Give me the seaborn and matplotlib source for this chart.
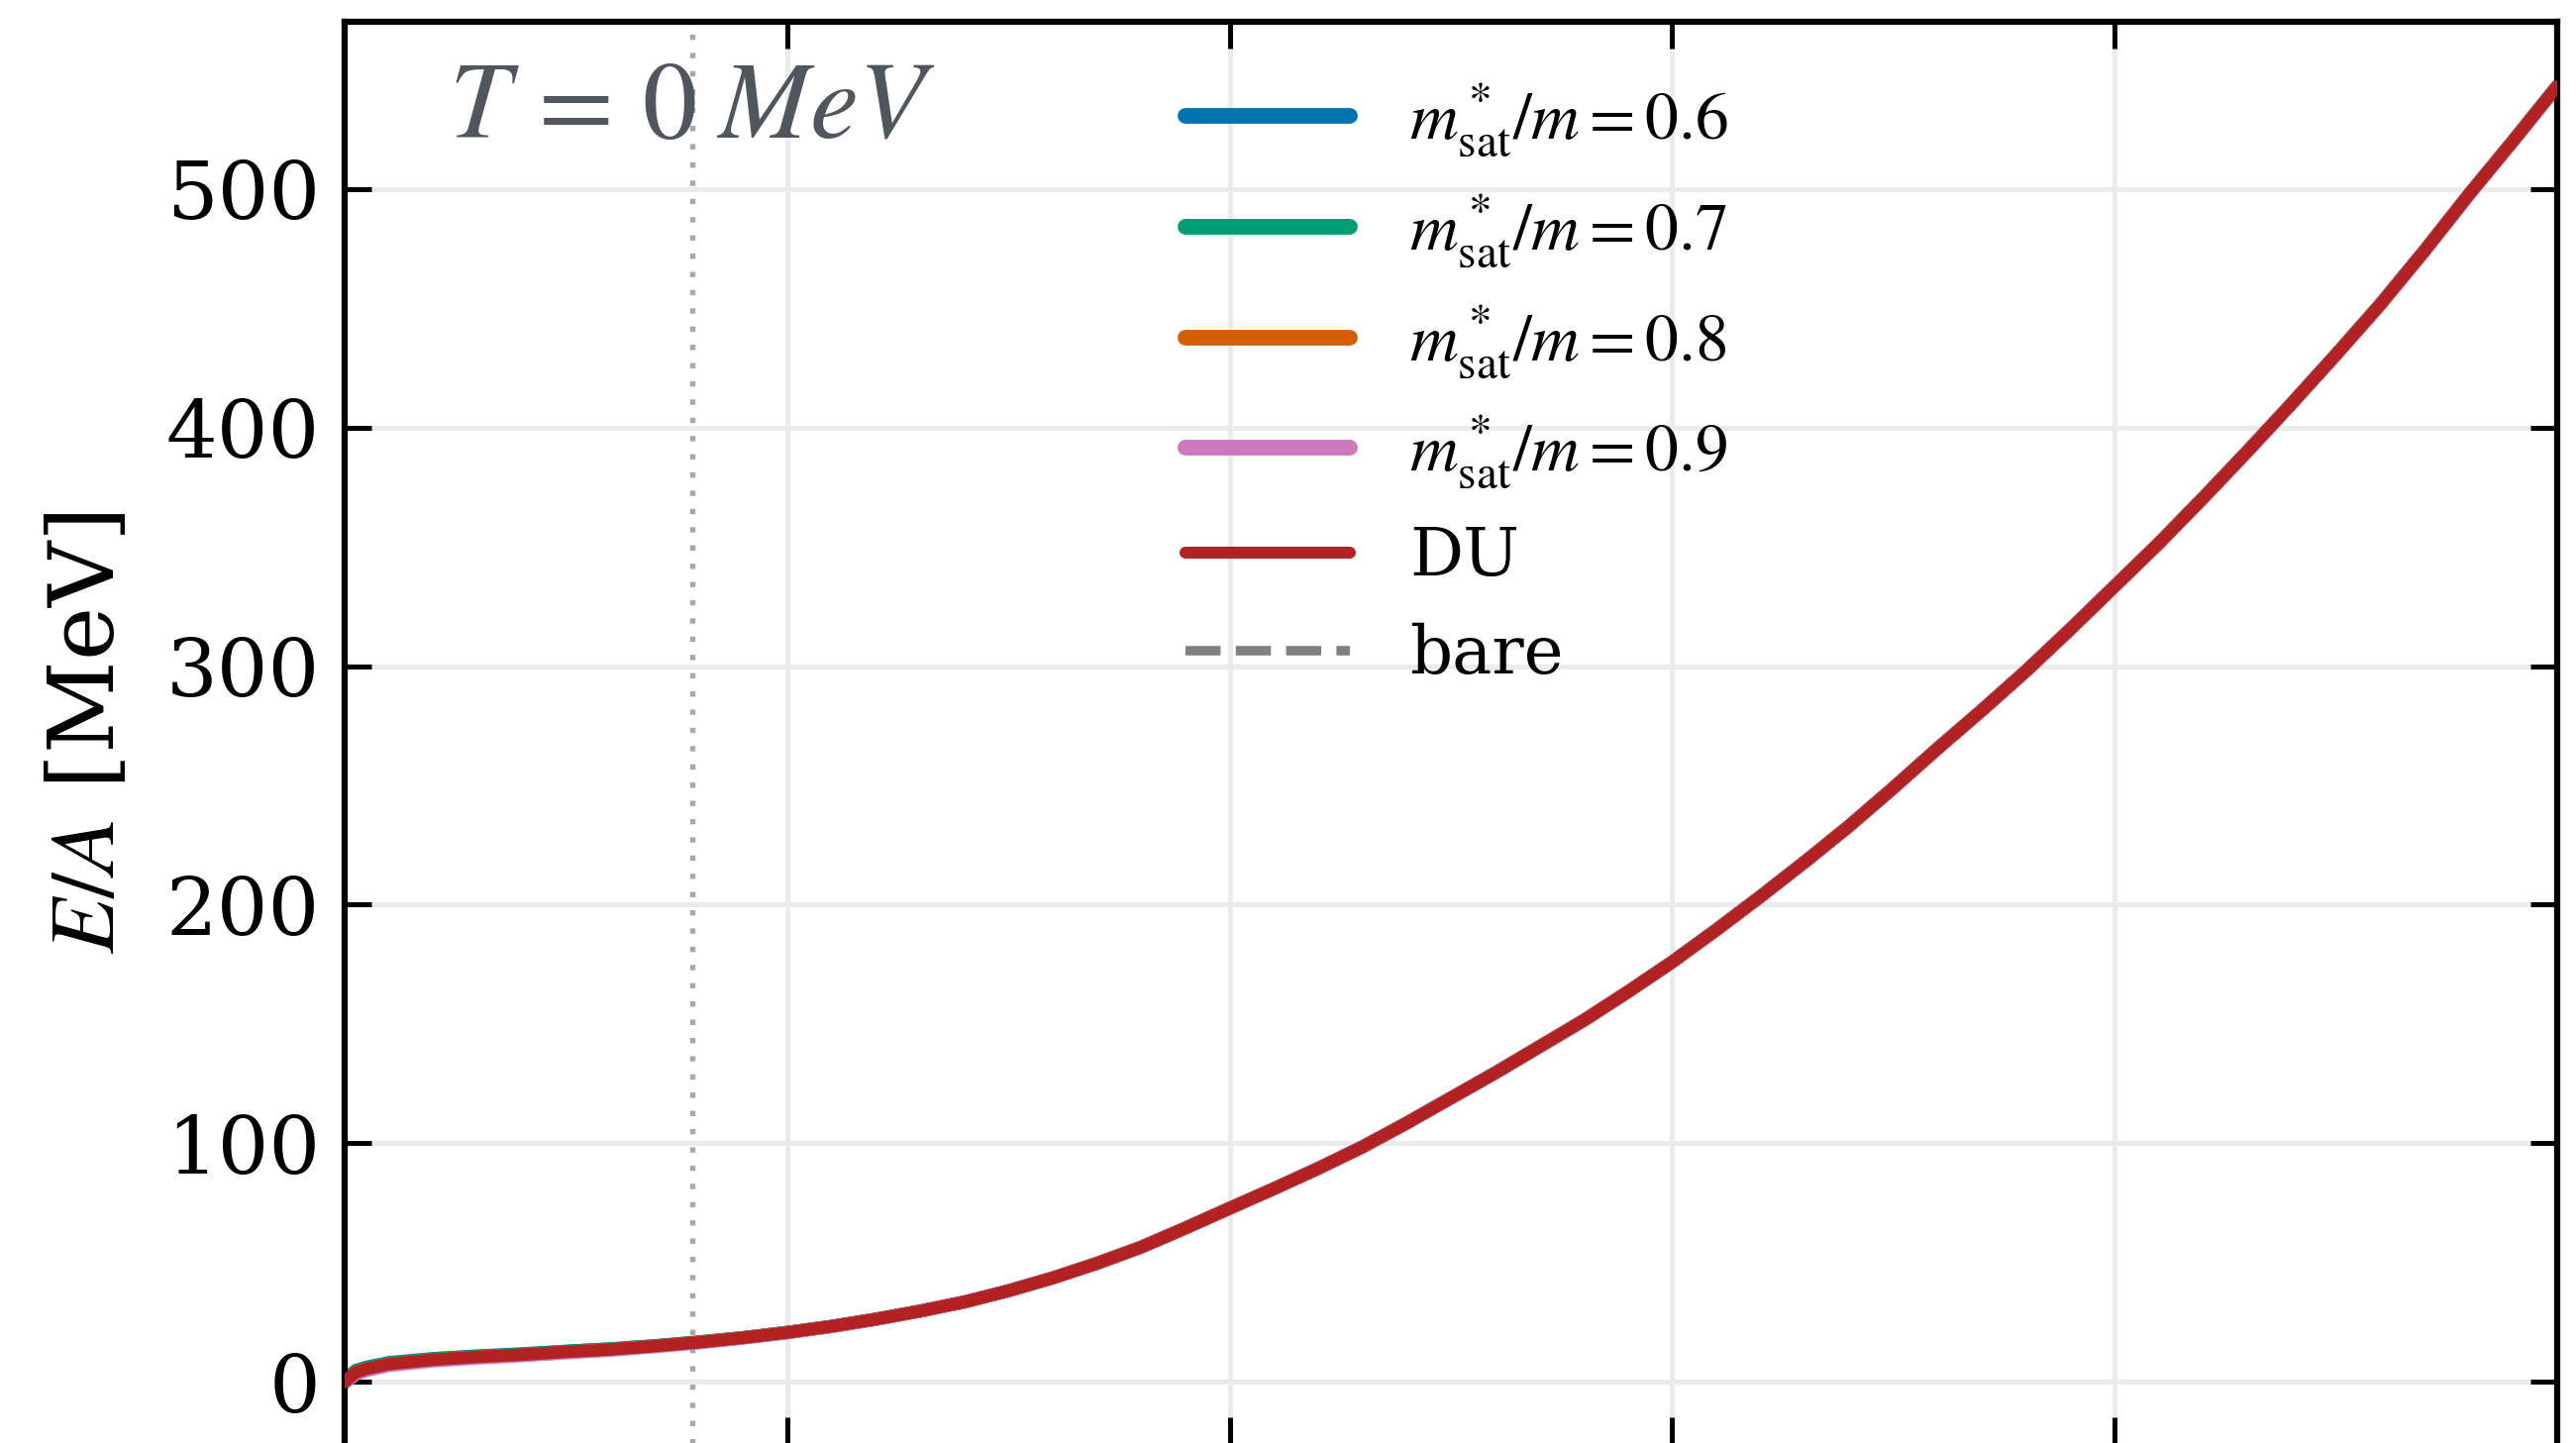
import numpy as np
import pandas as pd
import matplotlib
matplotlib.use("Agg")
import matplotlib.pyplot as plt
import seaborn as sns

# ---------------- data ----------------
density = [0.0, 0.005, 0.01, 0.02, 0.04, 0.06, 0.08, 0.10, 0.12, 0.14, 0.16, 0.18,
           0.20, 0.22, 0.24, 0.26, 0.28, 0.30, 0.32, 0.34, 0.36, 0.38, 0.40, 0.42,
           0.44, 0.46, 0.48, 0.50, 0.52, 0.54, 0.56, 0.58, 0.60, 0.62, 0.64, 0.66,
           0.68, 0.70, 0.72, 0.74, 0.76, 0.78, 0.80, 0.82, 0.84, 0.86, 0.88, 0.90,
           0.92, 0.94, 0.96, 0.98, 1.00]

ea_du = [0.0, 4.0, 5.5, 7.5, 9.3, 10.5, 11.4, 12.6, 13.6, 15.0, 16.6, 18.5,
         20.7, 23.3, 26.3, 29.7, 33.5, 38.2, 43.6, 49.7, 56.5, 64.5, 72.8, 81.0,
         89.5, 98.5, 108.5, 119.0, 129.5, 140.5, 151.5, 163.5, 176.0, 189.5, 203.5, 218.0,
         233.0, 249.0, 265.5, 281.5, 298.0, 315.5, 333.5, 351.5, 370.5, 390.0, 410.0, 430.5,
         451.5, 474.0, 497.5, 520.0, 543.0]

ea_m06 = [0.6, 4.8, 6.2, 8.1, 9.8, 10.9, 11.8, 12.9, 13.9, 15.2, 16.8, 18.6,
          20.8, 23.3, 26.3, 29.7, 33.5, 38.2, 43.6, 49.7, 56.5, 64.5, 72.8, 81.0,
          89.5, 98.5, 108.5, 119.0, 129.5, 140.5, 151.5, 163.5, 176.0, 189.5, 203.5, 218.0,
          233.0, 249.0, 265.5, 281.5, 298.0, 315.5, 333.5, 351.5, 370.5, 390.0, 410.0, 430.5,
          451.5, 474.0, 497.5, 520.0, 543.0]

ea_m07 = [0.4, 4.5, 5.9, 7.9, 9.6, 10.7, 11.6, 12.8, 13.8, 15.1, 16.7, 18.6,
          20.8, 23.3, 26.3, 29.7, 33.5, 38.2, 43.6, 49.7, 56.5, 64.5, 72.8, 81.0,
          89.5, 98.5, 108.5, 119.0, 129.5, 140.5, 151.5, 163.5, 176.0, 189.5, 203.5, 218.0,
          233.0, 249.0, 265.5, 281.5, 298.0, 315.5, 333.5, 351.5, 370.5, 390.0, 410.0, 430.5,
          451.5, 474.0, 497.5, 520.0, 543.0]

ea_m08 = [0.2, 4.0, 5.4, 7.4, 9.2, 10.4, 11.3, 12.5, 13.5, 15.0, 16.6, 18.5,
          20.7, 23.3, 26.3, 29.7, 33.5, 38.2, 43.6, 49.7, 56.5, 64.5, 72.8, 81.0,
          89.5, 98.5, 108.5, 119.0, 129.5, 140.5, 151.5, 163.5, 176.0, 189.5, 203.5, 218.0,
          233.0, 249.0, 265.5, 281.5, 298.0, 315.5, 333.5, 351.5, 370.5, 390.0, 410.0, 430.5,
          451.5, 474.0, 497.5, 520.0, 543.0]

ea_m09 = [-0.4, 3.3, 4.8, 6.9, 8.8, 10.0, 11.0, 12.2, 13.3, 14.8, 16.4, 18.4,
          20.6, 23.2, 26.2, 29.7, 33.5, 38.2, 43.6, 49.7, 56.5, 64.5, 72.8, 81.0,
          89.5, 98.5, 108.5, 119.0, 129.5, 140.5, 151.5, 163.5, 176.0, 189.5, 203.5, 218.0,
          233.0, 249.0, 265.5, 281.5, 298.0, 315.5, 333.5, 351.5, 370.5, 390.0, 410.0, 430.5,
          451.5, 474.0, 497.5, 520.0, 543.0]

ea_bare = ea_du

n_sat = 0.157
y_ticks = [0, 100, 200, 300, 400, 500]
x_ticks = [0.0, 0.2, 0.4, 0.6, 0.8, 1.0]

series_labels = [r"$m^*_{\rm sat}/m = 0.6$", r"$m^*_{\rm sat}/m = 0.7$",
                 r"$m^*_{\rm sat}/m = 0.8$", r"$m^*_{\rm sat}/m = 0.9$"]
series_values = [ea_m06, ea_m07, ea_m08, ea_m09]

# ---------------- style ----------------
sns.set_theme(style="ticks")
plt.rcParams["font.family"] = ["DejaVu Serif"]
plt.rcParams["mathtext.fontset"] = "stix"
plt.rcParams["axes.linewidth"] = 1.5
for k in ["text.color", "axes.labelcolor", "xtick.color", "ytick.color", "axes.edgecolor"]:
    plt.rcParams[k] = "black"

palette = sns.color_palette("colorblind")
colors = [palette[0], palette[2], palette[3], palette[4]]

fig = plt.figure(figsize=(2601 / 300, 1457 / 300), dpi=300)
ax = fig.add_axes([0.1338, -0.0007, 0.8589, 0.9856])

# bare (hidden underneath)
df_bare = pd.DataFrame({"n": density, "E": ea_bare})
sns.lineplot(data=df_bare, x="n", y="E", ax=ax, color="gray", lw=2.3,
             linestyle="--", label="bare", zorder=1, legend=False)

for lab, vals, col in zip(series_labels, series_values, colors):
    df = pd.DataFrame({"n": density, "E": vals})
    sns.lineplot(data=df, x="n", y="E", ax=ax, color=col, lw=3.2,
                 label=lab, zorder=2, legend=False)

df_du = pd.DataFrame({"n": density, "E": ea_du})
sns.lineplot(data=df_du, x="n", y="E", ax=ax, color="#b22222", lw=3.0,
             label="DU", zorder=3, legend=False)

ax.axvline(n_sat, color="#a8a8a8", lw=1.3, linestyle=(0, (1, 2.4)), zorder=0.5)

ax.set_xlim(0, 1.0)
ax.set_ylim(-26, 570)
ax.set_xticks(x_ticks)
ax.set_yticks(y_ticks)
ax.grid(True, color="#ebebeb", lw=1.2, zorder=0)
ax.set_axisbelow(True)
ax.tick_params(direction="in", length=6.5, width=1.2, top=True, right=True,
               labelsize=19.5, pad=6, labelbottom=False)
ax.set_xlabel("")
ax.set_ylabel(r"$E/A$ [MeV]", fontsize=22, labelpad=8)

ax.text(0.047, 0.94, r"$T\,=\,0\;MeV$", transform=ax.transAxes, fontsize=26.5,
        color="#4f565e", ha="left", va="center")

handles, labels = ax.get_legend_handles_labels()
order = [1, 2, 3, 4, 5, 0]
leg = ax.legend([handles[i] for i in order], [labels[i] for i in order],
                loc="upper left", bbox_to_anchor=(0.353, 1.0), frameon=False,
                fontsize=16.2, handlelength=2.45, handletextpad=0.9,
                labelspacing=0.5)
for i, line in enumerate(leg.get_lines()):
    if i < 4:
        line.set_linewidth(3.8)
        line.set_solid_capstyle("round")
    elif i == 4:
        line.set_linewidth(2.9)
        line.set_solid_capstyle("round")
    else:
        line.set_linewidth(2.3)

fig.savefig("out.png", dpi=300)
